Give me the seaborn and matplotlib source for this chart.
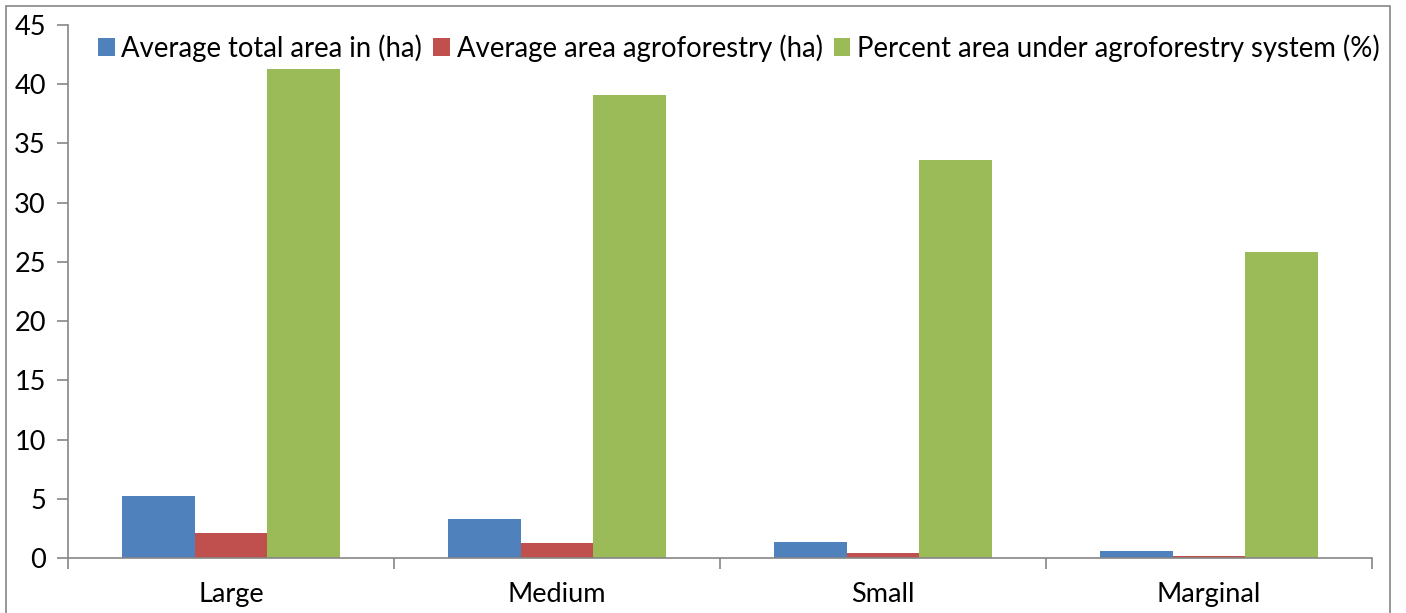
import matplotlib
matplotlib.use("Agg")
import matplotlib.pyplot as plt
from matplotlib.patches import Rectangle
from matplotlib.ticker import FixedLocator, NullFormatter
import seaborn as sns
import pandas as pd

categories = ["Large", "Medium", "Small", "Marginal"]
series_names = [
    "Average total area in (ha)",
    "Average area agroforestry (ha)",
    "Percent area under agroforestry system (%)",
]
avg_total_area = [5.2, 3.27, 1.38, 0.62]
avg_agroforestry_area = [2.1, 1.27, 0.42, 0.15]
pct_agroforestry = [41.3, 39.1, 33.6, 25.8]
y_ticks = [0, 5, 10, 15, 20, 25, 30, 35, 40, 45]

colors = ["#4F81BD", "#C0504D", "#9BBB59"]

df = pd.DataFrame({
    "category": categories * 3,
    "series": [series_names[0]] * 4 + [series_names[1]] * 4 + [series_names[2]] * 4,
    "value": avg_total_area + avg_agroforestry_area + pct_agroforestry,
})

sns.set_theme(style="white")
plt.rcParams["font.family"] = ["Lato", "DejaVu Sans"]

W, H = 1406, 613
fig = plt.figure(figsize=(W / 100, H / 100), dpi=100)
ax = fig.add_axes([68 / W, 1 - 558 / H, (1372 - 68) / W, (558 - 25) / H])

sns.barplot(data=df, x="category", y="value", hue="series", order=categories,
            hue_order=series_names, palette=colors, width=0.667,
            saturation=1, linewidth=0, ax=ax)

ax.set_xlim(-0.5, 3.5)
ax.set_ylim(0, 45)
ax.set_yticks(y_ticks)
ax.set_yticklabels([str(t) for t in y_ticks], fontsize=19.5, color="#000000")
ax.set_xlabel("")
ax.set_ylabel("")

# category labels centred, tick marks at the category boundaries
ax.tick_params(axis="x", which="major", length=0, labelsize=19.5, pad=17,
               labelcolor="#000000")
ax.xaxis.set_minor_locator(FixedLocator([-0.5, 0.5, 1.5, 2.5, 3.5]))
ax.xaxis.set_minor_formatter(NullFormatter())
ax.tick_params(axis="x", which="minor", bottom=True, length=8, width=1.2,
               color="#868686", direction="out")
ax.tick_params(axis="y", left=True, length=8, width=1.2, color="#868686",
               direction="out", pad=8)

for side in ["top", "right"]:
    ax.spines[side].set_visible(False)
for side in ["left", "bottom"]:
    ax.spines[side].set_color("#868686")
    ax.spines[side].set_linewidth(1.2)

leg = ax.legend(loc="upper left", bbox_to_anchor=(0.023, 0.983), ncol=3,
                frameon=False, fontsize=19.85, handlelength=0.6,
                handleheight=0.6, handletextpad=0.25, columnspacing=0.4,
                borderaxespad=0, borderpad=0)
for t in leg.get_texts():
    t.set_color("#000000")

# outer chart border
fig.patches.append(Rectangle((6 / W, -0.02), (1390 - 6) / W, 1 - 6 / H + 0.02,
                             transform=fig.transFigure, fill=False,
                             edgecolor="#868686", linewidth=1.2))

fig.savefig("out.png", dpi=100, facecolor="white")
